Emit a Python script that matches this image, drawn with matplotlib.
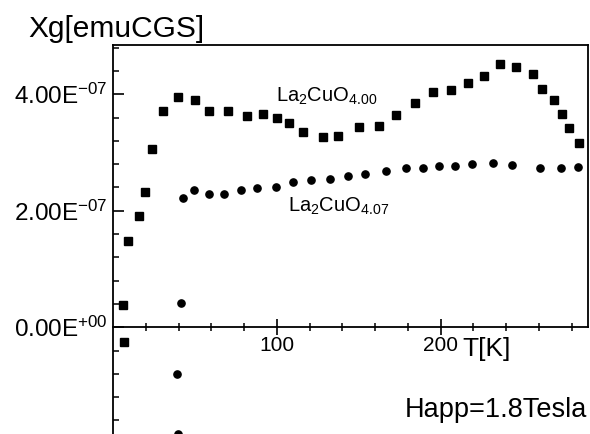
import matplotlib
matplotlib.use('Agg')
import matplotlib.pyplot as plt
from matplotlib.ticker import FixedLocator, FixedFormatter

plt.rcParams['font.family'] = ['Liberation Sans', 'DejaVu Sans']
plt.rcParams['mathtext.default'] = 'regular'

# La2CuO4.00 (squares): temperature [K], susceptibility [1e-7 emu CGS]
T_400 = [5.9, 6.7, 9.3, 15.7, 19.4, 24.0, 30.4, 39.9, 50.3, 58.5, 70.4, 81.9,
         91.8, 100.4, 107.5, 116.2, 128.1, 137.6, 150.3, 162.7, 172.7, 184.5,
         195.1, 206.5, 217.0, 226.4, 236.4, 246.2, 256.4, 262.1, 269.4, 273.9,
         278.4, 284.2]
chi_400 = [0.38, -0.26, 1.48, 1.91, 2.33, 3.06, 3.71, 3.96, 3.90, 3.72, 3.72, 3.63,
           3.67, 3.59, 3.50, 3.36, 3.26, 3.29, 3.44, 3.46, 3.64, 3.85,
           4.04, 4.07, 4.19, 4.32, 4.52, 4.47, 4.35, 4.09, 3.90, 3.66,
           3.42, 3.16]

# La2CuO4.07 (circles)
T_407 = [41.4, 38.9, 39.7, 42.9, 49.3, 58.5, 67.6, 78.0, 87.8, 99.4, 109.8, 121.1,
         132.4, 143.7, 153.8, 166.8, 178.6, 189.4, 199.3, 209.1, 219.1, 232.1,
         243.9, 260.4, 273.7, 283.9]
chi_407 = [0.41, -0.80, -1.84, 2.22, 2.35, 2.28, 2.28, 2.35, 2.39, 2.41, 2.49, 2.53,
           2.55, 2.59, 2.64, 2.68, 2.73, 2.73, 2.77, 2.77, 2.80, 2.82,
           2.79, 2.73, 2.73, 2.76]

y_tick_values = [0.0, 2.0e-7, 4.0e-7]
y_tick_labels = [r'0.00E$^{+00}$', r'2.00E$^{-07}$', r'4.00E$^{-07}$']
x_tick_values = [100, 200]
x_tick_labels = ['100', '200']

SCALE = 1e-7
YMIN, YMAX = -1.832e-7, 4.846e-7
XMIN, XMAX = 0, 290

fig = plt.figure(figsize=(5.9, 4.34), dpi=100)
ax = fig.add_axes([113 / 590, 0.0, 475 / 590, 389 / 434])

ax.plot(T_400, [v * SCALE for v in chi_400], linestyle='none', marker='s',
        markersize=5.5, color='black')
ax.plot(T_407, [v * SCALE for v in chi_407], linestyle='none', marker='o',
        markersize=5.2, color='black')

ax.set_xlim(XMIN, XMAX)
ax.set_ylim(YMIN, YMAX)

for s in ax.spines.values():
    s.set_linewidth(1.3)
ax.spines['bottom'].set_position(('data', 0))
ax.spines['right'].set_bounds(0, YMAX)

ax.xaxis.set_major_locator(FixedLocator(x_tick_values))
ax.xaxis.set_major_formatter(FixedFormatter(x_tick_labels))
ax.xaxis.set_minor_locator(FixedLocator([t for t in range(20, 281, 20) if t not in x_tick_values]))
ax.yaxis.set_major_locator(FixedLocator(y_tick_values))
ax.yaxis.set_major_formatter(FixedFormatter(y_tick_labels))
ax.yaxis.set_minor_locator(FixedLocator([k * 0.4e-7 for k in range(-4, 13) if k % 5 != 0]))

ax.tick_params(axis='x', which='major', direction='inout', length=11, width=1.2,
               labelsize=15, pad=1, top=False)
ax.tick_params(axis='x', which='minor', direction='inout', length=6, width=1.1, top=False)
ax.tick_params(axis='y', which='major', direction='in', length=8, width=1.2,
               labelsize=17.5, pad=4, right=False)
ax.tick_params(axis='y', which='minor', direction='in', length=4.5, width=1.1, right=False)

ax.text(99.6, 3.87e-7, r'La$_2$CuO$_{4.00}$', fontsize=14.5, va='baseline', ha='left')
ax.text(107.1, 1.985e-7, r'La$_2$CuO$_{4.07}$', fontsize=14.5, va='baseline', ha='left')
ax.text(213.2, -0.49e-7, 'T[K]', fontsize=19, va='baseline', ha='left')
ax.text(289.6, -1.54e-7, 'Happ=1.8Tesla', fontsize=19.5, va='baseline', ha='right')
fig.text(28 / 590, 1 - 37 / 434, 'Xg[emuCGS]', fontsize=21.5, va='baseline', ha='left')

fig.savefig('out.png', dpi=100)
